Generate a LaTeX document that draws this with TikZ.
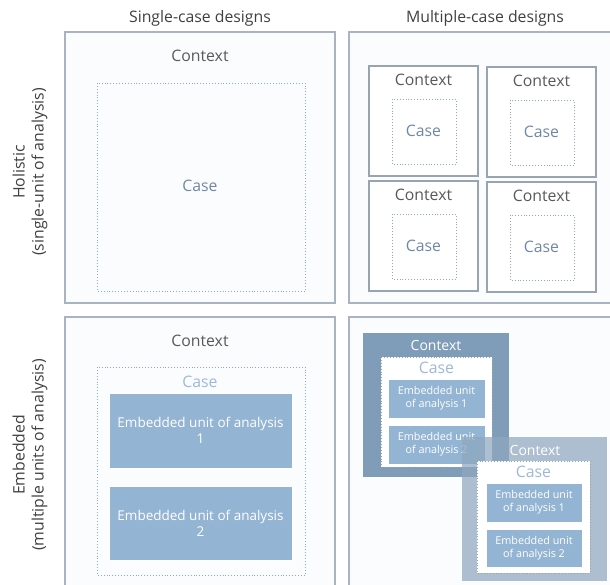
\documentclass[tikz,border=0pt]{standalone}
\usepackage{fontspec}
\setmainfont{Open Sans}
\definecolor{headtext}{HTML}{404040}
\definecolor{ctxtext}{HTML}{595959}
\definecolor{casetext}{HTML}{7088A5}
\definecolor{lightcase}{HTML}{9DB9D8}
\definecolor{dotline}{HTML}{8FA8C3}
\definecolor{embfill}{HTML}{93B4D2}
\definecolor{ctxdark}{HTML}{7F9DB9}
\definecolor{ctxlight}{HTML}{8EA7BE}
\definecolor{boxline}{HTML}{99A4B3}
\definecolor{panelline}{HTML}{A9B3C1}
\definecolor{panelfill}{HTML}{FBFCFD}

\tikzset{
	panel/.style={draw=panelline, line width=1.6pt, fill=panelfill},
	ctxbox/.style={draw=boxline, line width=2pt, fill=white},
	casebox/.style={draw=dotline, line width=0.9pt, dotted},
	embbox/.style={fill=embfill, draw=white, line width=0.8pt},
	heading/.style={text=headtext, font=\fontsize{15.8}{19}\selectfont},
	rowlabel/.style={text=headtext, font=\fontsize{15.8}{19}\selectfont, align=center, rotate=90},
	ctxlabel/.style={text=ctxtext, font=\fontsize{15.8}{19}\selectfont},
	caselabel/.style={text=casetext, font=\fontsize{15.8}{19}\selectfont},
	emblabel/.style={text=white, font=\fontsize{13.5}{16}\selectfont, align=center},
	smallemb/.style={text=white, font=\fontsize{10.8}{13}\selectfont, align=center}
}

\begin{document}
\begin{tikzpicture}[x=1pt, y=-1pt]
	\useasboundingbox (0,0) rectangle (610,585);
	\clip (0,0) rectangle (610,585);

	% column and row headings
	\node [heading] (single) at (200, 18) {Single-case designs};
	\node [heading] (multiple) at (485, 18) {Multiple-case designs};
	\node [rowlabel] (holistic) at (30, 172) {Holistic\\(single-unit of analysis)};
	\node [rowlabel] (embedded) at (30, 455) {Embedded\\(multiple units of analysis)};

	% single-case holistic
	\draw [panel] (65, 32) rectangle (335, 303);
	\node [ctxlabel] (ctxa) at (200, 56) {Context};
	\draw [casebox] (97, 83) rectangle (305, 291);
	\node [caselabel] (casea) at (200, 186) {Case};

	% multiple-case holistic
	\draw [panel] (349, 32) rectangle (620, 303);
	\foreach \x/\y [count=\i] in {369/66, 487/67, 369/181, 487/182} {
		\draw [ctxbox] (\x, \y) rectangle ++(109, 110);
		\node [ctxlabel] (ctxm\i) at (\x+54.5, \y+14) {Context};
		\draw [casebox] (\x+23, \y+33) rectangle ++(64, 65);
		\node [caselabel] (casem\i) at (\x+54.5, \y+65) {Case};
	}

	% single-case embedded
	\draw [panel] (65, 317) rectangle (335, 600);
	\node [ctxlabel] (ctxb) at (200, 341) {Context};
	\draw [casebox] (97, 367) rectangle (305, 575);
	\node [caselabel, text=lightcase] (caseb) at (200, 382) {Case};
	\draw [embbox] (109, 393) rectangle (292, 468);
	\node [emblabel] (embb1) at (200.5, 430.5) {Embedded unit of analysis\\1};
	\draw [embbox] (109, 486) rectangle (292, 560);
	\node [emblabel] (embb2) at (200.5, 523) {Embedded unit of analysis\\2};

	% multiple-case embedded
	\draw [panel] (349, 317) rectangle (620, 600);

	\fill [ctxdark] (363, 333) rectangle (509, 477);
	\node [ctxlabel, text=white, font=\fontsize{14}{17}\selectfont] (ctxc1) at (436, 345) {Context};
	\draw [casebox, fill=white, draw=boxline] (381, 357) rectangle (492, 467);
	\node [caselabel, text=lightcase] (casec1) at (436.5, 368) {Case};
	\draw [embbox] (388, 379) rectangle (485, 418);
	\node [smallemb] (embc1) at (436.5, 398.5) {Embedded unit\\of analysis 1};
	\draw [embbox] (388, 425) rectangle (485, 464);
	\node [smallemb] (embc2) at (436.5, 444.5) {Embedded unit\\of analysis 2};

	\fill [ctxlight, fill opacity=0.72] (462, 437) rectangle (607, 581);
	\node [ctxlabel, text=white, font=\fontsize{14}{17}\selectfont] (ctxc2) at (535, 450) {Context};
	\draw [casebox, fill=white, draw=boxline] (477, 461) rectangle (590, 573);
	\node [caselabel, text=lightcase] (casec2) at (533.5, 472) {Case};
	\draw [embbox] (486, 483) rectangle (582, 522);
	\node [smallemb] (embd1) at (534, 502.5) {Embedded unit\\of analysis 1};
	\draw [embbox] (486, 529) rectangle (582, 567);
	\node [smallemb] (embd2) at (534, 548) {Embedded unit\\of analysis 2};
\end{tikzpicture}
\end{document}
